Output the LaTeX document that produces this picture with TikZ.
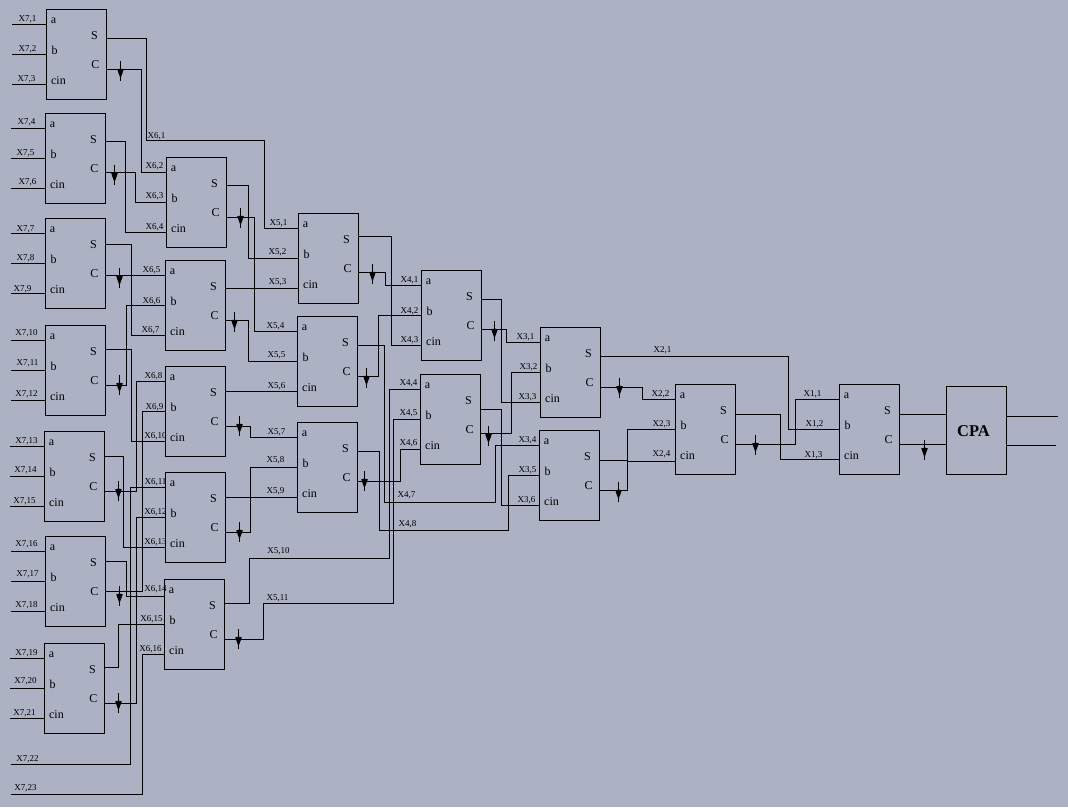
\documentclass[tikz,border=0pt]{standalone}
\usepackage{fontspec}
\setmainfont{Liberation Serif}
\usetikzlibrary{arrows.meta}
\definecolor{bgcol}{RGB}{173,177,196}
\tikzset{
  wire/.style={draw=black,line width=1.05pt},
  carrybox/.style={draw=black,line width=1.05pt,anchor=north west,minimum width=60pt,minimum height=90pt,inner sep=0pt,outer sep=0pt},
  pintext/.style={font=\fontsize{12}{12}\selectfont,inner sep=0pt},
  wiretext/.style={font=\fontsize{9}{9}\selectfont,inner sep=0pt},
  carrow/.style={draw=black,line width=1pt,-{Kite[length=10pt,width=6.5pt,inset=0.8pt]}}
}
% name, left, top, y of S pin, y of C pin
\newcommand{\adder}[5]{%
  \node[carrybox] (#1) at (#2,#3) {};
  \coordinate (#1a) at (#2,#3+15);
  \coordinate (#1b) at (#2,#3+45);
  \coordinate (#1c) at (#2,#3+75);
  \coordinate (#1S) at (#2+60,#4);
  \coordinate (#1C) at (#2+60,#5);
  \node[pintext] (#1ta) at (#2+7,#3+11) {a};
  \node[pintext] (#1tb) at (#2+8,#3+41) {b};
  \node[pintext] (#1tc) at (#2+12,#3+71) {cin};
  \node[pintext] (#1tS) at (#2+48,#3+26) {S};
  \node[pintext] (#1tC) at (#2+49,#3+55) {C};
}
\newcommand{\lab}[4]{\node[wiretext] (X#3-#4) at (#1,#2) {X#3,#4};}
\newcommand{\carrymark}[3]{%
  \draw[wire] (#1C) ++(#2,-#3) -- ++(0,20);
  \draw[carrow] (#1C) ++(#2,-#3+6) -- ++(0,12);}
\newcommand{\stub}[1]{\draw[wire] (#1) -- ++(-35,0);}
\begin{document}
\begin{tikzpicture}[x=1pt,y=-1pt]
\fill[bgcol] (0,0) rectangle (1068,807);
\useasboundingbox (0,0) rectangle (1068,807);
\begin{scope}[shift={(0.5,0.5)}]
\adder{B1}{46}{9}{38}{69}
\adder{B2}{45}{113}{141}{172}
\adder{B3}{45}{218}{244}{275}
\adder{B4}{45}{325}{349}{385}
\adder{B5}{44}{431}{456}{491}
\adder{B6}{45}{536}{561}{591}
\adder{B7}{44}{643}{667}{703}
\adder{C1}{166}{157}{185}{217}
\adder{C2}{165}{260}{288}{320}
\adder{C3}{165}{366}{391}{426}
\adder{C4}{165}{472}{497}{532}
\adder{C5}{164}{579}{603}{639}
\coordinate (C5a) at (164,596);
\adder{D1}{298}{213}{236}{272}
\adder{D2}{297}{316}{345}{376}
\adder{D3}{297}{422}{451}{481}
\adder{E1}{421}{270}{299}{329}
\adder{E2}{420}{374}{409}{433}
\adder{F1}{540}{327}{356}{387}
\adder{F2}{539}{430}{460}{490}
\adder{G}{675}{384}{414}{444}
\coordinate (Gc) at (675,461);
\adder{H}{839}{384}{414}{444}
\node[carrybox,minimum height=88pt] (CPA) at (946,386) {};
\node[font=\fontsize{16.5}{17}\selectfont\bfseries,inner sep=0pt] (CPAt) at (973,431) {CPA};
\coordinate (out1) at (1057,416);
\coordinate (out2) at (1055,445);
\coordinate (in22) at (10,764);
\coordinate (in23) at (10,794);

% inputs of first column
\foreach \b in {B1,B2,B3,B4,B5,B6,B7}{\stub{\b a}\stub{\b b}\stub{\b c}}

% first column to second column
\draw[wire] (B1S) -- ++(40,0) |- (264,140) |- (D1a);
\draw[wire] (B1C) -- ++(35,0) |- (C1a);
\draw[wire] (B2S) -- ++(20,0) |- (C1c);
\draw[wire] (B2C) -- ++(30,0) |- (C1b);
\draw[wire] (B3S) -- ++(26,0) |- (C2c);
\draw[wire] (B3C) -- (C2a);
\draw[wire] (B4S) -- ++(26,0) |- (C3c);
\draw[wire] (B4C) -- ++(21,0) |- (C2b);
\draw[wire] (B5S) -- ++(19,0) |- (C4c);
\draw[wire] (B5C) -- ++(32,0) |- (C3a);
\draw[wire] (B6S) -- ++(21,0) |- (C5a);
\draw[wire] (B6C) -- ++(37,0) |- (C3b);
\draw[wire] (B7S) -- ++(14,0) |- (C5b);
\draw[wire] (B7C) -- ++(32,0) |- (C4b);
\draw[wire] (in22) -- ++(120,0) |- (C4a);
\draw[wire] (in23) -- ++(132,0) |- (C5c);

% second column to third column
\draw[wire] (C1S) -- ++(22,0) |- (D1b);
\draw[wire] (C1C) -- ++(28,0) |- (D2a);
\draw[wire] (C2S) -- (D1c);
\draw[wire] (C2C) -- ++(23,0) |- (D2b);
\draw[wire] (C3S) -- (D2c);
\draw[wire] (C3C) -- ++(25,0) |- (D3a);
\draw[wire] (C4S) -- (D3c);
\draw[wire] (C4C) -- ++(25,0) |- (D3b);
\draw[wire] (C5S) -- ++(25,0) |- (389,558) |- (E2a);
\draw[wire] (C5C) -- ++(39,0) |- (393,603) |- (E2b);

% third column to fourth and fifth columns
\draw[wire] (D1S) -- ++(33,0) |- (E1c);
\draw[wire] (D1C) -- ++(27,0) |- (E1a);
\draw[wire] (D2C) -- ++(21,0) |- (E1b);
\draw[wire] (D2S) -- ++(27,0) |- (495,502) |- (F2a);
\draw[wire] (D3S) -- ++(22,0) |- (508,530) |- (F2b);
\draw[wire] (D3C) -- ++(43,0) |- (E2c);

% fourth column to fifth column
\draw[wire] (E1S) -- ++(20,0) |- (F1c);
\draw[wire] (E1C) -- ++(25,0) |- (F1a);
\draw[wire] (E2S) -- ++(21,0) |- (F2c);
\draw[wire] (E2C) -- ++(31,0) |- (F1b);

% fifth column onwards
\draw[wire] (F1S) -- ++(188,0) |- (Hb);
\draw[wire] (F1C) -- ++(42,0) |- (Ga);
\draw[wire] (F2S) -- ++(28,0) |- (Gc);
\draw[wire] (F2C) -- ++(28,0) |- (Gb);
\draw[wire] (GS) -- ++(45,0) |- (Hc);
\draw[wire] (GC) -- ++(60,0) |- (Ha);
\draw[wire] (HS) -- (HS -| CPA.west);
\draw[wire] (HC) -- (HC -| CPA.west);
\draw[wire] (CPA.east |- out1) -- (out1);
\draw[wire] (CPA.east |- out2) -- (out2);

% carry marks
\carrymark{B1}{14}{9}
\carrymark{B2}{9}{8}
\carrymark{B3}{14}{8}
\carrymark{B4}{14}{11}
\carrymark{B5}{14}{11}
\carrymark{B6}{14}{6}
\carrymark{B7}{14}{11}
\carrymark{C1}{14}{10}
\carrymark{C2}{9}{9}
\carrymark{C3}{14}{11}
\carrymark{C4}{14}{11}
\carrymark{C5}{14}{11}
\carrymark{D1}{14}{9}
\carrymark{D2}{9}{9}
\carrymark{D3}{7}{11}
\carrymark{E1}{13}{9}
\carrymark{E2}{8}{8}
\carrymark{F1}{19}{10}
\carrymark{F2}{19}{9}
\carrymark{G}{20}{10}
\carrymark{H}{25}{5}

% wire labels
\lab{27}{19}{7}{1}\lab{27}{49}{7}{2}\lab{26}{79}{7}{3}
\lab{26}{122}{7}{4}\lab{25}{153}{7}{5}\lab{27}{182}{7}{6}
\lab{25}{229}{7}{7}\lab{25}{258}{7}{8}\lab{22}{289}{7}{9}
\lab{26}{333}{7}{10}\lab{27}{363}{7}{11}\lab{26}{394}{7}{12}
\lab{26}{441}{7}{13}\lab{25}{470}{7}{14}\lab{24}{501}{7}{15}
\lab{26}{544}{7}{16}\lab{27}{574}{7}{17}\lab{26}{605}{7}{18}
\lab{26}{653}{7}{19}\lab{25}{681}{7}{20}\lab{24}{713}{7}{21}
\lab{27}{759}{7}{22}\lab{25}{788}{7}{23}
\lab{156}{136}{6}{1}\lab{154}{166}{6}{2}\lab{154}{196}{6}{3}\lab{154}{227}{6}{4}
\lab{151}{270}{6}{5}\lab{151}{301}{6}{6}\lab{150}{330}{6}{7}\lab{153}{376}{6}{8}
\lab{154}{407}{6}{9}\lab{155}{436}{6}{10}\lab{155}{482}{6}{11}\lab{155}{512}{6}{12}
\lab{155}{542}{6}{13}\lab{155}{589}{6}{14}\lab{151}{619}{6}{15}\lab{150}{649}{6}{16}
\lab{278}{223}{5}{1}\lab{277}{252}{5}{2}\lab{277}{282}{5}{3}\lab{275}{326}{5}{4}
\lab{276}{355}{5}{5}\lab{276}{386}{5}{6}\lab{276}{432}{5}{7}\lab{275}{460}{5}{8}
\lab{275}{491}{5}{9}\lab{278}{551}{5}{10}\lab{277}{598}{5}{11}
\lab{409}{280}{4}{1}\lab{409}{311}{4}{2}\lab{409}{340}{4}{3}\lab{408}{383}{4}{4}
\lab{408}{413}{4}{5}\lab{408}{443}{4}{6}\lab{406}{495}{4}{7}\lab{407}{524}{4}{8}
\lab{525}{337}{3}{1}\lab{528}{367}{3}{2}\lab{527}{397}{3}{3}
\lab{527}{440}{3}{4}\lab{527}{470}{3}{5}\lab{526}{500}{3}{6}
\lab{662}{350}{2}{1}\lab{660}{394}{2}{2}\lab{661}{424}{2}{3}\lab{661}{454}{2}{4}
\lab{812}{394}{1}{1}\lab{814}{424}{1}{2}\lab{813}{455}{1}{3}
\end{scope}
\end{tikzpicture}
\end{document}
